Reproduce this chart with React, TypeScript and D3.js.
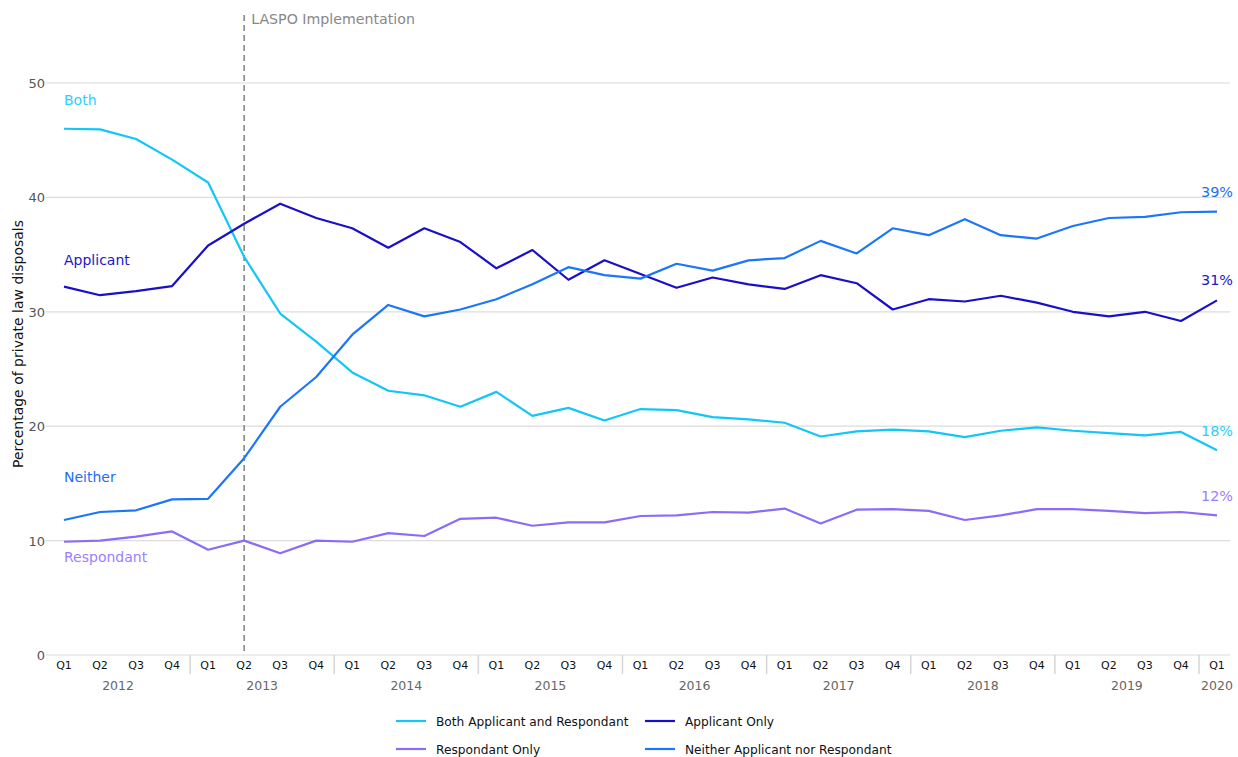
import * as React from 'react';
import * as d3 from 'd3';

const quarters = ['Q1', 'Q2', 'Q3', 'Q4'];
const years = ['2012', '2013', '2014', '2015', '2016', '2017', '2018', '2019', '2020'];
const periods = years.flatMap(y => quarters.map(q => y + ' ' + q)).slice(0, 33);

const both = [46.0, 45.95, 45.1, 43.3, 41.3, 34.8, 29.85, 27.4, 24.7, 23.1, 22.7, 21.7, 23.0, 20.9, 21.6, 20.5, 21.5, 21.4, 20.8, 20.6, 20.3, 19.1, 19.55, 19.7, 19.55, 19.05, 19.6, 19.9, 19.6, 19.4, 19.2, 19.5, 17.9];
const applicant = [32.2, 31.45, 31.8, 32.25, 35.8, 37.7, 39.45, 38.2, 37.3, 35.6, 37.3, 36.1, 33.8, 35.4, 32.8, 34.5, 33.3, 32.1, 33.0, 32.4, 32.0, 33.2, 32.5, 30.2, 31.1, 30.9, 31.4, 30.8, 30.0, 29.6, 30.0, 29.2, 31.0];
const neither = [11.8, 12.5, 12.65, 13.6, 13.65, 17.2, 21.7, 24.3, 28.0, 30.6, 29.6, 30.2, 31.1, 32.4, 33.9, 33.2, 32.9, 34.2, 33.6, 34.5, 34.7, 36.2, 35.1, 37.3, 36.7, 38.1, 36.7, 36.4, 37.5, 38.2, 38.3, 38.7, 38.75];
const respondant = [9.9, 10.0, 10.35, 10.8, 9.2, 10.0, 8.9, 10.0, 9.9, 10.65, 10.4, 11.9, 12.0, 11.3, 11.6, 11.6, 12.15, 12.2, 12.5, 12.45, 12.8, 11.5, 12.7, 12.75, 12.6, 11.8, 12.2, 12.75, 12.75, 12.6, 12.4, 12.5, 12.2];

const yTicks = [0, 10, 20, 30, 40, 50];

const series = [
	{key: 'both', name: 'Both Applicant and Respondant', short: 'Both', values: both, color: '#12c6f7', text: '#2bd0ff', labelAt: 48.1, end: '18%', endAt: 19.1},
	{key: 'applicant', name: 'Applicant Only', short: 'Applicant', values: applicant, color: '#1a0fc8', text: '#2216c8', labelAt: 34.1, end: '31%', endAt: 32.3},
	{key: 'respondant', name: 'Respondant Only', short: 'Respondant', values: respondant, color: '#8a6cf6', text: '#9a80ff', labelAt: 8.1, end: '12%', endAt: 13.45},
	{key: 'neither', name: 'Neither Applicant nor Respondant', short: 'Neither', values: neither, color: '#1b76fb', text: '#1e6cf5', labelAt: 15.1, end: '39%', endAt: 40.0},
];

const font = '"DejaVu Sans", sans-serif';

const draw = (svgNode: SVGSVGElement) => {
	const svg = d3.select(svgNode);
	svg.html('');

	const left = 46, right = 1230, top = 15, bottom = 655;
	const x = d3.scaleLinear().domain([0, periods.length - 1]).range([64, 1217]);
	const y = d3.scaleLinear().domain([0, 50]).range([bottom, 83]);

	// gridlines
	svg.append('g').selectAll('line')
		.data(yTicks)
		.enter().append('line')
		.attr('x1', left).attr('x2', right)
		.attr('y1', d => y(d)).attr('y2', d => y(d))
		.attr('stroke', '#dcdcdc').attr('stroke-width', 1.2);

	svg.append('g').selectAll('text')
		.data(yTicks)
		.enter().append('text')
		.attr('x', 45).attr('y', d => y(d) + 5)
		.attr('text-anchor', 'end')
		.attr('font-family', font).attr('font-size', 13)
		.attr('fill', '#555')
		.text(d => d);

	// y axis title
	svg.append('text')
		.attr('transform', 'translate(23,' + 344 + ') rotate(-90)')
		.attr('text-anchor', 'middle')
		.attr('font-family', font).attr('font-size', 14)
		.attr('fill', '#111')
		.text('Percentage of private law disposals');

	// quarter labels
	svg.append('g').selectAll('text')
		.data(periods)
		.enter().append('text')
		.attr('x', (d, i) => x(i)).attr('y', 669)
		.attr('text-anchor', 'middle')
		.attr('font-family', font).attr('font-size', 11)
		.attr('fill', '#111')
		.text(d => d.split(' ')[1]);

	// year labels and separators
	svg.append('g').selectAll('text')
		.data(years)
		.enter().append('text')
		.attr('x', (d, i) => {
			const first = i * 4;
			const last = Math.min(first + 3, periods.length - 1);
			return (x(first) + x(last)) / 2;
		})
		.attr('y', 690)
		.attr('text-anchor', 'middle')
		.attr('font-family', font).attr('font-size', 12.5)
		.attr('fill', '#666')
		.text(d => d);

	svg.append('g').selectAll('line')
		.data(years.slice(1))
		.enter().append('line')
		.attr('x1', (d, i) => x((i + 1) * 4 - 0.5))
		.attr('x2', (d, i) => x((i + 1) * 4 - 0.5))
		.attr('y1', bottom).attr('y2', 674)
		.attr('stroke', '#d6d6d6').attr('stroke-width', 1.5);

	// LASPO marker
	svg.append('line')
		.attr('x1', x(5)).attr('x2', x(5))
		.attr('y1', top).attr('y2', bottom)
		.attr('stroke', '#888').attr('stroke-width', 1.6)
		.attr('stroke-dasharray', '6,4');

	svg.append('text')
		.attr('x', x(5) + 7).attr('y', 24)
		.attr('font-family', font).attr('font-size', 14.2)
		.attr('fill', '#888')
		.text('LASPO Implementation');

	// lines
	const line = d3.line<number>()
		.x((d, i) => x(i))
		.y(d => y(d));

	svg.append('g').selectAll('path')
		.data(series)
		.enter().append('path')
		.attr('d', d => line(d.values))
		.attr('fill', 'none')
		.attr('stroke', d => d.color)
		.attr('stroke-width', 2.2)
		.attr('stroke-linejoin', 'round');

	// series labels on the left
	svg.append('g').selectAll('text')
		.data(series)
		.enter().append('text')
		.attr('x', x(0)).attr('y', d => y(d.labelAt))
		.attr('font-family', font).attr('font-size', 14)
		.attr('fill', d => d.text)
		.text(d => d.short);

	// end labels
	svg.append('g').selectAll('text')
		.data(series)
		.enter().append('text')
		.attr('x', 1233).attr('y', d => y(d.endAt))
		.attr('text-anchor', 'end')
		.attr('font-family', font).attr('font-size', 14.4)
		.attr('fill', d => d.text)
		.text(d => d.end);

	// legend
	const legendPos = [[396, 721], [645, 721], [396, 749], [645, 749]];
	const legend = svg.append('g').selectAll('g')
		.data(series)
		.enter().append('g')
		.attr('transform', (d, i) => 'translate(' + legendPos[i][0] + ',' + legendPos[i][1] + ')');

	legend.append('line')
		.attr('x1', 0).attr('x2', 30)
		.attr('stroke', d => d.color).attr('stroke-width', 2.2);

	legend.append('text')
		.attr('x', 40).attr('y', 4.5)
		.attr('font-family', font).attr('font-size', 12.2)
		.attr('fill', '#111')
		.text(d => d.name);
};

const App = () => {
	const ref = React.useRef<SVGSVGElement>(null);

	React.useEffect(() => {
		if (ref.current) draw(ref.current);
	}, []);

	return (
		<svg
			ref={ref}
			width={1238}
			height={757}
			style={{position: 'absolute', left: 0, top: 0, background: '#fff'}}
		/>
	);
};

export default App;
